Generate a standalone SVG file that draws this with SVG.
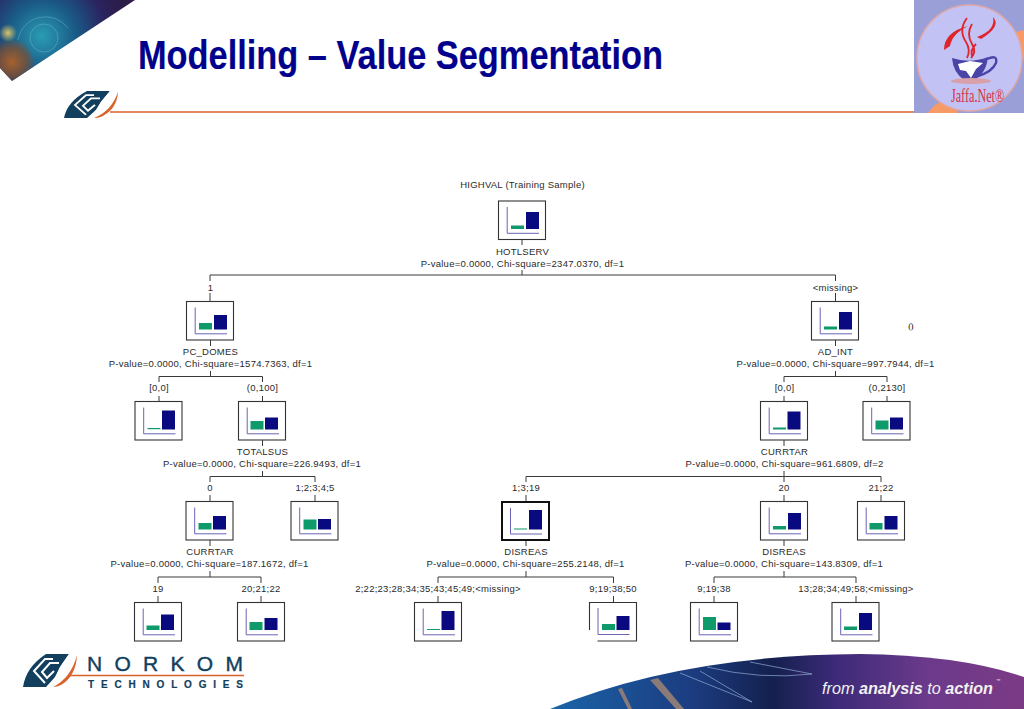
<svg xmlns="http://www.w3.org/2000/svg" xmlns:xlink="http://www.w3.org/1999/xlink" width="1024" height="709" viewBox="0 0 1024 709">
<style>
text{font-family:"Liberation Sans",Arial,sans-serif}
.t{font-size:9.500px;fill:#2a2a2a;text-anchor:middle;letter-spacing:.25px}
.f{fill:#fff;stroke:#333;stroke-width:1.100}
.ax{fill:none;stroke:#6a64b4;stroke-width:1}
.g{fill:#0f9a6c}
.b{fill:#0a0a80}
.c{fill:none;stroke:#3a3a3a;stroke-width:1}
</style>
<defs>
<g id="box"><rect class="f" x="0" y="0" width="47" height="38.500"/><path class="ax" d="M8.700 6V32.300H40.500"/></g>
<radialGradient id="tl" gradientUnits="userSpaceOnUse" cx="42" cy="36" r="85"><stop offset="0" stop-color="#2a9cb4"/><stop offset=".4" stop-color="#1a5a86"/><stop offset=".75" stop-color="#2a2460"/><stop offset="1" stop-color="#2c1c48"/></radialGradient>
<radialGradient id="tl2" gradientUnits="userSpaceOnUse" cx="12" cy="62" r="24"><stop offset="0" stop-color="#a8622c"/><stop offset=".6" stop-color="#7a5036" stop-opacity=".8"/><stop offset="1" stop-color="#7a5036" stop-opacity="0"/></radialGradient>
<radialGradient id="tl3" gradientUnits="userSpaceOnUse" cx="8" cy="33" r="9"><stop offset="0" stop-color="#d8c46a"/><stop offset="1" stop-color="#d8c46a" stop-opacity="0"/></radialGradient>
<linearGradient id="sw" gradientUnits="userSpaceOnUse" x1="550" y1="0" x2="1024" y2="0"><stop offset="0" stop-color="#1a64a8"/><stop offset=".3" stop-color="#1c3c80"/><stop offset=".47" stop-color="#14204e"/><stop offset=".6" stop-color="#3c2a78"/><stop offset=".8" stop-color="#6c3a8c"/><stop offset="1" stop-color="#7c3a84"/></linearGradient>
<g id="logo"><path fill="#123f5e" d="M0 33Q3 13 23 0H46L37 13 27 33H14L0 33Z"/><path fill="none" stroke="#fff" stroke-width="2" d="M30 5H22L11 17 22 29M36 9H27L19 18 24 24 31 17"/><path fill="#fff" d="M23 33 33 22 37 13 46 0 47 4 36 24 29 33Z"/><path fill="#d8622a" d="M30 33Q48 24 54 1 53 22 38 31 34 33 30 33Z"/></g>
</defs>
<rect width="1024" height="709" fill="#fff"/>
<g id="corner-art"><path fill="url(#tl)" d="M0 0H135L12 81 0 68Z"/><path fill="url(#tl2)" d="M0 38V68L12 81 36 65 26 42Z"/><path fill="url(#tl3)" d="M0 24H17V42H0Z"/><path fill="none" stroke="#7fd0dc" stroke-opacity=".35" d="M18 40a28 28 0 0 1 50-12M30 38a14 14 0 1 0 28 0 14 14 0 1 0-28 0"/></g>
<text id="title" x="138" y="69" font-size="40" font-weight="700" fill="#00008c" stroke="#00008c" stroke-width=".15" textLength="525" lengthAdjust="spacingAndGlyphs">Modelling – Value Segmentation</text>
<g id="top-logo"><use xlink:href="#logo" transform="translate(64 91) scale(1 .82)"/><path d="M110 112H914" stroke="#d8622a" stroke-width="1.400"/></g>
<g id="jaffa-logo"><rect x="914" y="0" width="110" height="113" fill="#9a9fd8"/><path fill="#f79a66" d="M928 113Q936 100 952 100L958 113ZM1016 32 1024 30V60L1018 56Z"/><ellipse cx="969.500" cy="58" rx="52.500" ry="53" fill="#c2c3f4" stroke="#e0a8a8" stroke-width="1.600"/><path fill="none" stroke="#e0242c" stroke-width="1.800" d="M967 18Q958 30 966 42 971 50 967 58M972 24Q966 34 972 44 977 52 971 58M976 44Q970 50 972 56"/><path fill="#e0242c" d="M944 50Q944 32 968 26 952 34 950 46ZM977 37Q996 30 993 17 1002 26 981 39Z"/><path fill="#4a44a8" d="M952 58Q970 64 988 57 986 74 974 80H964Q953 72 952 58Z"/><path fill="none" stroke="#4a44a8" stroke-width="2.400" d="M987 59Q998 54 996 63 992 72 978 76"/><path fill="#fff" d="M958 64 970 61 983 63 976 69 971 78 966 71 960 70Z"/><ellipse cx="971" cy="81" rx="20" ry="3" fill="#d8a0a8"/><text transform="translate(951 102) scale(.64 1)" font-size="19" fill="#d83040" style="font-family:'Liberation Serif',serif">Jaffa.Net®</text></g>
<g id="connectors" class="c">
<path class="c" d="M522 240V245M522 270V275M210 281V275H835.500V281M210 293V301.500M835.500 293V301.500"/>
<path class="c" d="M210.500 340V346M210.500 371V376.500M159 382V376.500H262.500V382M159 396V401.500M262.500 396V401.500"/>
<path class="c" d="M835.500 340V346M835.500 371V376.500M784 382V376.500H887V382M784 396V401.500M887 396V401.500"/>
<path class="c" d="M262.500 440V446M262.500 471V476.500M210 482V476.500H315V482M210 495V501.500M315 495V501.500"/>
<path class="c" d="M784 440V446M784 471V476.500M526 482V476.500H881V482M526 495V501.500M784 482V476.500M784 495V501.500M881 495V501.500"/>
<path class="c" d="M210 540V546M210 571V577M158 583V577H261V583M158 596V603M261 596V603"/>
<path class="c" d="M526 540V546M526 571V577M438 583V577H613.500V583M438 596V603M613.500 596V603"/>
<path class="c" d="M784 540V546M784 571V577M714 583V577H856V583M714 596V603M856 596V603"/>
</g>
<g id="n-root"><text class="t" x="522.500" y="188">HIGHVAL (Training Sample)</text><use xlink:href="#box" x="498.500" y="201"/><rect class="g" x="511" y="225.500" width="13" height="3.500"/><rect class="b" x="526" y="212" width="13" height="17"/><text class="t" x="522.500" y="255">HOTLSERV</text><text class="t" x="522.500" y="267">P-value=0.0000, Chi-square=2347.0370, df=1</text></g>
<g id="n-pcdomes"><text class="t" x="210.500" y="291">1</text><use xlink:href="#box" x="186.500" y="301.500"/><rect class="g" x="199" y="323" width="13" height="6.500"/><rect class="b" x="214" y="315" width="13" height="14.500"/><text class="t" x="210.500" y="355">PC_DOMES</text><text class="t" x="210.500" y="367">P-value=0.0000, Chi-square=1574.7363, df=1</text></g>
<g id="n-adint"><text class="t" x="835.500" y="291">&lt;missing&gt;</text><use xlink:href="#box" x="811.500" y="301.500"/><rect class="g" x="824" y="326.500" width="13" height="3"/><rect class="b" x="839" y="312" width="13" height="17.500"/><text class="t" x="835.500" y="355">AD_INT</text><text class="t" x="835.500" y="367">P-value=0.0000, Chi-square=997.7944, df=1</text></g>
<g id="n-note"><text x="910.500" y="329" font-size="9" letter-spacing="-.8" text-anchor="middle" fill="#111" style="font-family:'Liberation Serif',serif">()</text></g>
<g id="n-a"><text class="t" x="159" y="391">[0,0]</text><use xlink:href="#box" x="135" y="401.500"/><rect class="g" x="147.500" y="428" width="13" height="1.200"/><rect class="b" x="162" y="410.500" width="13" height="19"/></g>
<g id="n-totalsus"><text class="t" x="262.500" y="391">(0,100]</text><use xlink:href="#box" x="238.500" y="401.500"/><rect class="g" x="250.500" y="421" width="13" height="8.500"/><rect class="b" x="265" y="417.500" width="13" height="12"/><text class="t" x="262.500" y="455">TOTALSUS</text><text class="t" x="262" y="467">P-value=0.0000, Chi-square=226.9493, df=1</text></g>
<g id="n-currtar-r"><text class="t" x="784.500" y="391">[0,0]</text><use xlink:href="#box" x="760.500" y="401.500"/><rect class="g" x="773" y="427.500" width="13" height="2"/><rect class="b" x="787.500" y="411.500" width="13" height="18"/><text class="t" x="784.500" y="455">CURRTAR</text><text class="t" x="784.500" y="467">P-value=0.0000, Chi-square=961.6809, df=2</text></g>
<g id="n-b"><text class="t" x="887" y="391">(0,2130]</text><use xlink:href="#box" x="863" y="401.500"/><rect class="g" x="875.500" y="420.500" width="13" height="9"/><rect class="b" x="890" y="417.500" width="13" height="12"/></g>
<g id="n-currtar-l"><text class="t" x="210" y="491">0</text><use xlink:href="#box" x="186" y="501.500"/><rect class="g" x="198.500" y="523" width="13" height="6.500"/><rect class="b" x="213" y="516" width="13" height="13.500"/><text class="t" x="210" y="555">CURRTAR</text><text class="t" x="209.500" y="567">P-value=0.0000, Chi-square=187.1672, df=1</text></g>
<g id="n-c"><text class="t" x="315" y="491">1;2;3;4;5</text><use xlink:href="#box" x="291" y="501.500"/><rect class="g" x="303.500" y="519.500" width="13" height="10"/><rect class="b" x="318" y="519" width="13" height="10.500"/></g>
<g id="n-disreas-m"><text class="t" x="526" y="491">1;3;19</text><rect x="502" y="502" width="47" height="38" fill="#fff" stroke="#111" stroke-width="2"/><path class="ax" d="M510.500 508V534H542"/><rect class="g" x="514" y="528.500" width="13" height="1"/><rect class="b" x="529" y="510" width="13" height="19.500"/><text class="t" x="526" y="555">DISREAS</text><text class="t" x="525.500" y="567">P-value=0.0000, Chi-square=255.2148, df=1</text></g>
<g id="n-disreas-r"><text class="t" x="784" y="491">20</text><use xlink:href="#box" x="760.500" y="501.500"/><rect class="g" x="773" y="526" width="13" height="3.500"/><rect class="b" x="788" y="513" width="13" height="16.500"/><text class="t" x="784" y="555">DISREAS</text><text class="t" x="784" y="567">P-value=0.0000, Chi-square=143.8309, df=1</text></g>
<g id="n-d"><text class="t" x="881" y="491">21;22</text><use xlink:href="#box" x="857.500" y="501.500"/><rect class="g" x="869.500" y="523" width="13" height="6.500"/><rect class="b" x="884.500" y="516" width="13" height="13.500"/></g>
<g id="n-e"><text class="t" x="158" y="592">19</text><use xlink:href="#box" x="134.500" y="602.500"/><rect class="g" x="146.500" y="625.500" width="13" height="4.500"/><rect class="b" x="161" y="614.500" width="13" height="15.500"/></g>
<g id="n-f"><text class="t" x="261" y="592">20;21;22</text><use xlink:href="#box" x="237.500" y="602.500"/><rect class="g" x="249.500" y="622" width="13" height="8"/><rect class="b" x="264.500" y="618" width="13" height="12"/></g>
<g id="n-g"><text class="t" x="438" y="592">2;22;23;28;34;35;43;45;49;&lt;missing&gt;</text><use xlink:href="#box" x="414.500" y="602.500"/><rect class="g" x="427" y="629" width="13" height="1"/><rect class="b" x="441.500" y="611" width="13" height="19"/></g>
<g id="n-h"><text class="t" x="613" y="592">9;19;38;50</text><path d="M589.500 630V602.500H636.500V641H597.500" fill="#fff" stroke="#333" stroke-width="1.100"/><path class="ax" d="M598 608V634.500H629.500"/><rect class="g" x="602" y="624" width="13" height="6"/><rect class="b" x="616.500" y="616" width="13" height="14"/></g>
<g id="n-i"><text class="t" x="714" y="592">9;19;38</text><use xlink:href="#box" x="690.500" y="602.500"/><rect class="g" x="703" y="617" width="13" height="13"/><rect class="b" x="717.500" y="622.500" width="13" height="7.500"/></g>
<g id="n-j"><text class="t" x="856" y="592">13;28;34;49;58;&lt;missing&gt;</text><use xlink:href="#box" x="832" y="602.500"/><rect class="g" x="844" y="626.500" width="13" height="3.500"/><rect class="b" x="859" y="613" width="13" height="17"/></g>
<g id="norkom"><use xlink:href="#logo" transform="translate(23 654)"/><path d="M70 675.500H244" stroke="#d8622a" stroke-width="1.500"/><text x="87" y="671" font-size="21" fill="#123f5e" stroke="#123f5e" stroke-width=".4" textLength="156">NORKOM</text><text x="88" y="688" font-size="10" font-weight="700" fill="#123f5e" stroke="#123f5e" stroke-width=".2" textLength="155">TECHNOLOGIES</text></g>
<g id="swoosh"><path fill="url(#sw)" d="M550 709Q680 655 860 654 960 655 1024 677V709Z"/><path fill="#8a7a78" d="M618 689 622 688 632 709H628ZM650 680 658 678 684 709H676Z"/><path fill="none" stroke="#9ab8dc" stroke-width=".8" stroke-opacity=".8" d="M680 673 752 702M700 671 752 702M707 667Q760 680 812 674L750 662"/><text x="822" y="694" font-size="16.200" fill="#f2f2f2" font-style="italic">from <tspan font-weight="700">analysis</tspan> to <tspan font-weight="700">action</tspan></text><text x="996" y="682" font-size="4.500" fill="#e8e8e8">™</text></g>
</svg>
